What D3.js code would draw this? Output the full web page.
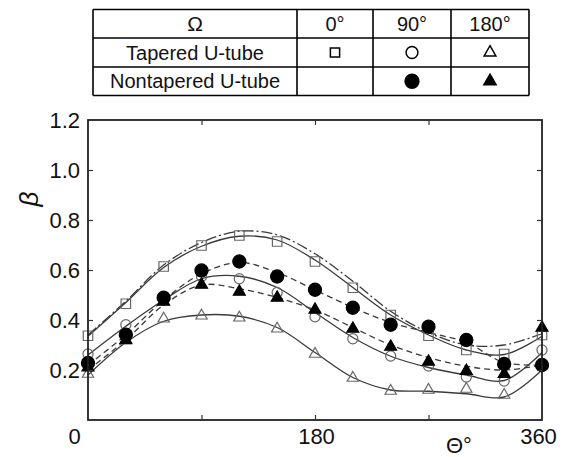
<!DOCTYPE html>
<html>
<head>
<meta charset="utf-8">
<script src="https://cdn.jsdelivr.net/npm/d3@7"></script>
<style>
  html, body { margin: 0; padding: 0; background: #fff; }
  svg { display: block; }
  text { font-family: "Liberation Sans", Arial, sans-serif; fill: #111; }
</style>
</head>
<body>
<svg id="chart" width="565" height="457"></svg>
<script>
// ---------- data ----------
const theta = [0, 30, 60, 90, 120, 150, 180, 210, 240, 270, 300, 330, 360];

// measured points
const taperedOmega0   = [0.337, 0.465, 0.614, 0.698, 0.738, 0.714, 0.634, 0.529, 0.42, 0.337, 0.28, 0.264, 0.34];
const taperedOmega90  = [0.264, 0.381, 0.48, 0.574, 0.565, 0.51, 0.413, 0.325, 0.256, 0.216, 0.172, 0.156, 0.28];
const taperedOmega180 = [0.184, 0.317, 0.405, 0.417, 0.409, 0.365, 0.264, 0.168, 0.116, 0.12, 0.124, 0.1, null];
const nontaperedOmega90  = [0.228, 0.341, 0.489, 0.598, 0.634, 0.574, 0.521, 0.449, 0.381, 0.373, 0.32, 0.224, 0.22];
const nontaperedOmega180 = [0.21, 0.32, 0.473, 0.541, 0.513, 0.489, 0.441, 0.365, 0.293, 0.233, 0.196, 0.184, 0.369];

// fitted curves
const fitTapered0      = [0.335, 0.47, 0.61, 0.695, 0.735, 0.72, 0.64, 0.53, 0.42, 0.34, 0.28, 0.262, 0.335];
const fitTapered0Alt   = [0.34, 0.475, 0.62, 0.71, 0.755, 0.74, 0.665, 0.555, 0.435, 0.35, 0.30, 0.30, 0.345];
const fitTapered90     = [0.26, 0.375, 0.48, 0.565, 0.575, 0.53, 0.43, 0.33, 0.255, 0.21, 0.18, 0.158, 0.27];
const fitTapered180    = [0.18, 0.31, 0.395, 0.42, 0.415, 0.37, 0.27, 0.17, 0.12, 0.115, 0.105, 0.092, 0.2];
const fitNontapered90  = [0.22, 0.34, 0.48, 0.585, 0.63, 0.59, 0.52, 0.45, 0.39, 0.35, 0.31, 0.23, 0.22];
const fitNontapered180 = [0.2, 0.32, 0.46, 0.54, 0.525, 0.49, 0.44, 0.37, 0.3, 0.25, 0.215, 0.2, 0.22];

const yTickValues = [0.2, 0.4, 0.6, 0.8, 1.0, 1.2];
const xTickLabels = [0, 180, 360];
const xInnerTicks = [90, 180, 270];

const tableHeader = ["\u03A9", "0\u00B0", "90\u00B0", "180\u00B0"];
const tableRows = ["Tapered U-tube", "Nontapered U-tube"];

// ---------- layout ----------
const svg = d3.select("#chart");
const L = 88, R = 542, T = 120, B = 420;
const x = d3.scaleLinear().domain([0, 360]).range([L, R]);
const y = d3.scaleLinear().domain([0, 1.2]).range([B, T]);

const lineCol = "#3a3a3a";
const openCol = "#666";

// ---------- curves ----------
const fits = [
  { v: fitTapered0Alt,   dash: "11,3,2,3" },
  { v: fitTapered0,      dash: null },
  { v: fitTapered90,     dash: null },
  { v: fitTapered180,    dash: null },
  { v: fitNontapered90,  dash: "6,4" },
  { v: fitNontapered180, dash: "6,4" }
];
const lineGen = d3.line()
  .x((d, i) => x(theta[i]))
  .y(d => y(d))
  .curve(d3.curveCatmullRom.alpha(0.5));

svg.append("g").selectAll("path").data(fits).join("path")
  .attr("d", d => lineGen(d.v))
  .attr("fill", "none")
  .attr("stroke", lineCol)
  .attr("stroke-width", 1.3)
  .attr("stroke-dasharray", d => d.dash);

// ---------- markers ----------
const series = [
  { v: taperedOmega0,   type: d3.symbolSquare,   size: 90,  fill: "none", stroke: openCol },
  { v: taperedOmega90,  type: d3.symbolCircle,   size: 80,  fill: "none", stroke: openCol },
  { v: taperedOmega180, type: d3.symbolTriangle, size: 55,  fill: "none", stroke: openCol },
  { v: nontaperedOmega180, type: d3.symbolTriangle, size: 62, fill: "#000", stroke: "#000" },
  { v: nontaperedOmega90,  type: d3.symbolCircle,   size: 135, fill: "#000", stroke: "#000" }
];
series.forEach(s => {
  const pts = s.v.map((d, i) => ({ t: theta[i], v: d })).filter(p => p.v != null);
  svg.append("g").selectAll("path").data(pts).join("path")
    .attr("transform", p => `translate(${x(p.t)},${y(p.v)})`)
    .attr("d", d3.symbol().type(s.type).size(s.size))
    .attr("fill", s.fill)
    .attr("stroke", s.stroke)
    .attr("stroke-width", 1.2);
});

// ---------- frame & axes ----------
svg.append("rect")
  .attr("x", L).attr("y", T).attr("width", R - L).attr("height", B - T)
  .attr("fill", "none").attr("stroke", "#222").attr("stroke-width", 1.8);

const axL = svg.append("g").attr("transform", `translate(${L},0)`)
  .call(d3.axisLeft(y).tickValues(yTickValues).tickSize(-5).tickPadding(8).tickFormat(d3.format(".1f")));
const axR = svg.append("g").attr("transform", `translate(${R},0)`)
  .call(d3.axisRight(y).tickValues(yTickValues.slice(0, 5)).tickSize(-5).tickFormat(""));
const axT = svg.append("g").attr("transform", `translate(0,${T})`)
  .call(d3.axisTop(x).tickValues(xInnerTicks).tickSize(-5).tickFormat(""));
const axB = svg.append("g").attr("transform", `translate(0,${B})`)
  .call(d3.axisBottom(x).tickValues(xInnerTicks).tickSize(-5).tickFormat(""));
const axBL = svg.append("g").attr("transform", `translate(0,${B})`)
  .call(d3.axisBottom(x).tickValues(xTickLabels).tickSize(0).tickPadding(8).tickFormat(d3.format("d")));

[axL, axR, axT, axB, axBL].forEach(g => {
  g.select(".domain").remove();
  g.selectAll(".tick line").attr("stroke", "#333").attr("stroke-width", 1.2);
});
axL.selectAll(".tick line").filter(d => d === 1.2).remove();
axL.selectAll("text").attr("font-size", 22).attr("fill", "#111")
  .attr("font-family", "Liberation Sans, Arial, sans-serif");
axBL.selectAll("text").attr("font-size", 22).attr("fill", "#111")
  .attr("font-family", "Liberation Sans, Arial, sans-serif")
  .attr("dx", d => d === 0 ? -14 : (d === 360 ? -4 : 1));

// axis titles
svg.append("text")
  .attr("transform", "translate(38,199) rotate(-90)")
  .attr("text-anchor", "middle")
  .attr("font-size", 26).attr("font-style", "italic")
  .text("\u03B2");
svg.append("text")
  .attr("x", 446).attr("y", 453)
  .attr("font-size", 22)
  .text("\u0398\u00B0");

// ---------- table ----------
const cols = [93, 297, 373, 451, 529];
const rows = [9.5, 38, 67, 95.5];
const tg = svg.append("g");
rows.forEach(r => tg.append("line").attr("x1", cols[0]).attr("x2", cols[4]).attr("y1", r).attr("y2", r)
  .attr("stroke", "#000").attr("stroke-width", 1.6));
cols.forEach(c => tg.append("line").attr("x1", c).attr("x2", c).attr("y1", rows[0]).attr("y2", rows[3])
  .attr("stroke", "#000").attr("stroke-width", 1.6));

const rowMid = i => (rows[i] + rows[i + 1]) / 2;
tableHeader.forEach((h, i) => {
  tg.append("text")
    .attr("x", (cols[i] + cols[i + 1]) / 2)
    .attr("y", rowMid(0) + 7)
    .attr("text-anchor", "middle")
    .attr("font-size", i === 0 ? 21 : 20)
    .attr("font-family", i === 0 ? "Liberation Serif, Times New Roman, serif" : null)
    .text(h);
});
tableRows.forEach((t, i) => {
  tg.append("text")
    .attr("x", (cols[0] + cols[1]) / 2)
    .attr("y", rowMid(i + 1) + 7)
    .attr("text-anchor", "middle")
    .attr("font-size", 20)
    .text(t);
});
const legendMarks = [
  { row: 1, col: 1, type: d3.symbolSquare,   size: 85,  fill: "none" },
  { row: 1, col: 2, type: d3.symbolCircle,   size: 110, fill: "none" },
  { row: 1, col: 3, type: d3.symbolTriangle, size: 60,  fill: "none" },
  { row: 2, col: 2, type: d3.symbolCircle,   size: 150, fill: "#000" },
  { row: 2, col: 3, type: d3.symbolTriangle, size: 65,  fill: "#000" }
];
tg.selectAll("path.lm").data(legendMarks).join("path")
  .attr("class", "lm")
  .attr("transform", d => `translate(${(cols[d.col] + cols[d.col + 1]) / 2},${rowMid(d.row)})`)
  .attr("d", d => d3.symbol().type(d.type).size(d.size)())
  .attr("fill", d => d.fill)
  .attr("stroke", "#000")
  .attr("stroke-width", 1.5);
</script>
</body>
</html>
